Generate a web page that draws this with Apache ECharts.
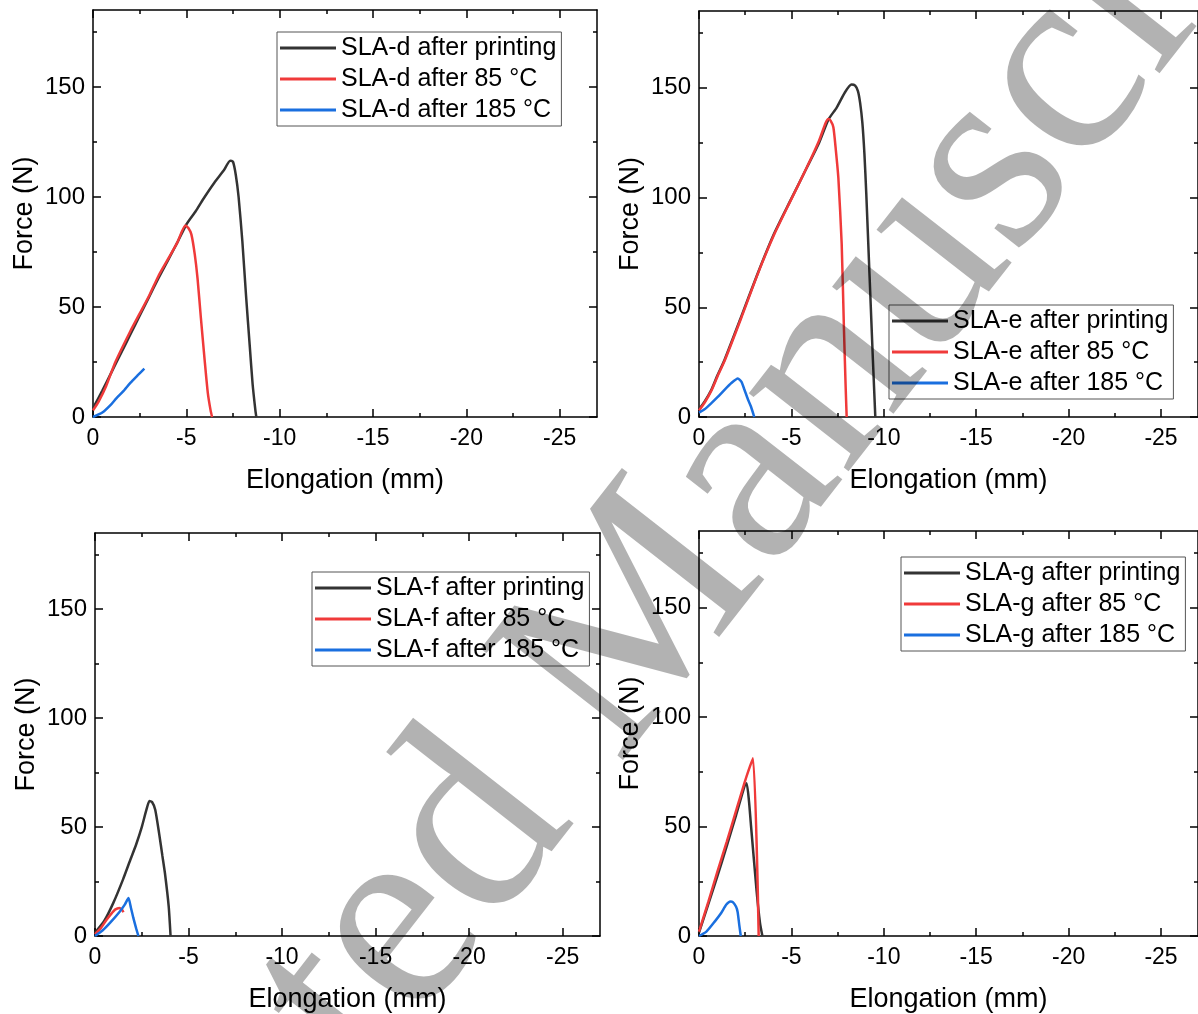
<!DOCTYPE html>
<html>
<head>
<meta charset="utf-8">
<script src="https://cdn.jsdelivr.net/npm/echarts@6/dist/echarts.min.js"></script>
<style>
html,body{margin:0;padding:0;background:#fff;}
#chart{width:1198px;height:1014px;}
</style>
</head>
<body>
<div id="chart"></div>
<script>
// axis ticks
var xMajor = [0, -5, -10, -15, -20, -25];
var xMinor = [-2.5, -7.5, -12.5, -17.5, -22.5];
var yMajor = [0, 50, 100, 150];
var yMinor = [25, 75, 125, 175];

// [elongation (mm), force (N)]
var slaD_print = [[0,4],[-0.5,12],[-1,20.5],[-1.5,29],[-2,37.5],[-2.5,46],[-3,54.5],[-3.5,63],[-4,71],[-4.5,79],[-5,87.5],[-5.5,93.5],[-5.9,99],[-6.5,106.5],[-7,112],[-7.35,116.5],[-7.5,116],[-7.65,110],[-7.8,100],[-8.0,80],[-8.2,55],[-8.4,32],[-8.55,15],[-8.7,3],[-8.75,0]];
var slaD_85 = [[0,3],[-0.3,7],[-0.7,14],[-1.2,25],[-2,39],[-2.5,47],[-3,55],[-3.5,64],[-4,71.5],[-4.5,79],[-4.95,87],[-5.1,86],[-5.27,83],[-5.45,74],[-5.6,63],[-5.78,45],[-5.98,26],[-6.15,11],[-6.3,3],[-6.38,0]];
var slaD_185 = [[0,0],[-0.5,2],[-1,6],[-1.25,8.5],[-1.6,11.5],[-2,15.5],[-2.4,19],[-2.75,22]];

var slaE_print = [[0,3.5],[-0.3,7],[-0.67,12.4],[-1.0,19],[-1.38,26],[-2.28,45.6],[-3.17,65.3],[-4.06,83.5],[-4.95,98.7],[-5.85,113.9],[-6.5,125],[-7.0,135.5],[-7.45,141],[-7.9,148],[-8.25,151.5],[-8.45,151],[-8.6,148.5],[-8.72,143],[-8.84,134],[-8.95,120],[-9.05,102],[-9.23,64],[-9.41,26],[-9.5,8],[-9.54,0]];
var slaE_85 = [[0,3],[-0.3,6.5],[-0.67,12],[-1.0,18.5],[-1.38,25.5],[-2.28,45],[-3.17,65],[-4.06,83],[-4.95,98.5],[-5.85,114],[-6.5,126],[-6.85,134],[-7.0,135.8],[-7.12,135],[-7.27,132],[-7.4,122],[-7.54,109],[-7.72,79],[-7.84,41],[-7.93,15],[-7.99,0]];
var slaE_185 = [[0,2],[-0.3,3.5],[-0.67,6.3],[-1.0,9],[-1.38,12.4],[-1.75,15.5],[-2.1,17.6],[-2.3,16],[-2.46,12.4],[-2.65,8],[-2.81,4.8],[-2.99,0]];

var slaF_print = [[0,1.5],[-0.5,7],[-0.98,15.2],[-1.5,26],[-1.89,35],[-2.2,42],[-2.5,50],[-2.75,58],[-2.91,62],[-3.05,61.5],[-3.22,58],[-3.43,47],[-3.6,37],[-3.74,28.8],[-3.94,13.6],[-4.04,0]];
var slaF_85 = [[0,0.8],[-0.3,3.5],[-0.63,7.6],[-0.9,10.5],[-1.07,12.1],[-1.3,12.9],[-1.45,12],[-1.52,10.9]];
var slaF_185 = [[0,0],[-0.4,2.5],[-0.8,6],[-1.34,11.4],[-1.6,14.5],[-1.79,17.4],[-1.92,13],[-2.05,8.3],[-2.2,3.5],[-2.32,0]];

var slaG_print = [[0,1.5],[-0.5,14.5],[-1.0,27.5],[-1.5,41],[-2.0,55],[-2.57,69.8],[-2.7,62],[-2.81,50.8],[-3.12,20.3],[-3.3,6],[-3.43,0]];
var slaG_85 = [[0,2],[-0.5,15.5],[-1,29.5],[-1.5,43],[-2,57],[-2.5,71],[-2.92,81.2],[-3.23,0]];
var slaG_185 = [[0,0],[-0.4,2],[-0.87,6.8],[-1.2,10.5],[-1.48,14.4],[-1.7,15.8],[-1.83,15.5],[-2.0,13.5],[-2.09,11],[-2.18,5],[-2.26,0]];

var FONT = '"Liberation Sans", Arial, sans-serif';
var colors = ['#333333', '#f03a3a', '#1a6fdf'];

var panels = [
	{tag:'d', grid:{left:93, top:10, width:504, height:407}, legend:{left:277, top:32}, data:[slaD_print, slaD_85, slaD_185]},
	{tag:'e', grid:{left:699, top:11, width:504, height:406}, legend:{left:889, top:305}, data:[slaE_print, slaE_85, slaE_185]},
	{tag:'f', grid:{left:95, top:533, width:505, height:407}, legend:{left:312, top:572}, data:[slaF_print, slaF_85, slaF_185]},
	{tag:'g', grid:{left:699, top:531, width:504, height:407}, legend:{left:901, top:557}, data:[slaG_print, slaG_85, slaG_185]}
];

var lineBlack = {color:'#000', width:1.5};

var makeAxis = function(dim, gi, pos, ticks, len, main){
	var ax = {
		gridIndex: gi, type: 'value', position: pos,
		axisLine: {show: main, onZero: false, lineStyle: lineBlack},
		axisTick: {show: true, inside: true, length: len, customValues: ticks, lineStyle: lineBlack},
		axisLabel: {show: false},
		splitLine: {show: false}
	};
	if(dim == 'x'){
		ax.min = -27; ax.max = 0; ax.inverse = true;
	}else{
		ax.min = 0; ax.max = 185;
	}
	return ax;
}

var option = {
	animation: false,
	backgroundColor: '#fff',
	grid: [], xAxis: [], yAxis: [], legend: [], series: [],
	graphic: [{
		type: 'text', x: 606, y: 664, z: 100, silent: true,
		rotation: 52 * Math.PI / 180,
		style: {text: 'Accepted Manuscript', font: '276px "Liberation Serif", serif', fill: 'rgba(0,0,0,0.3)', textAlign: 'center', textVerticalAlign: 'middle'}
	}]
};

panels.forEach(function(p, gi){
	option.grid.push(p.grid);

	var xb = makeAxis('x', gi, 'bottom', xMajor, 8, true);
	xb.axisLabel = {show: true, customValues: xMajor, margin: 10, fontSize: 23, color: '#000', fontFamily: FONT};
	xb.name = 'Elongation (mm)';
	xb.nameLocation = 'middle';
	xb.nameGap = 50;
	xb.nameTextStyle = {fontSize: 27, color: '#000', fontFamily: FONT};
	option.xAxis.push(xb, makeAxis('x', gi, 'bottom', xMinor, 4, false), makeAxis('x', gi, 'top', xMajor, 8, true), makeAxis('x', gi, 'top', xMinor, 4, false));

	var yl = makeAxis('y', gi, 'left', yMajor, 8, true);
	yl.axisLabel = {show: true, customValues: yMajor, margin: 8, fontSize: 24, color: '#000', fontFamily: FONT};
	yl.name = 'Force (N)';
	yl.nameLocation = 'middle';
	yl.nameGap = 55;
	yl.nameTextStyle = {fontSize: 27, color: '#000', fontFamily: FONT};
	option.yAxis.push(yl, makeAxis('y', gi, 'left', yMinor, 4, false), makeAxis('y', gi, 'right', yMajor, 8, true), makeAxis('y', gi, 'right', yMinor, 4, false));

	var names = ['SLA-' + p.tag + ' after printing', 'SLA-' + p.tag + ' after 85 °C', 'SLA-' + p.tag + ' after 185 °C'];
	option.legend.push({
		left: p.legend.left, top: p.legend.top, orient: 'vertical',
		data: names, icon: 'rect', itemWidth: 56, itemHeight: 3, itemGap: 3,
		padding: [2, 5, 2, 3], borderColor: '#555', borderWidth: 1, borderRadius: 0,
		textStyle: {fontSize: 25, lineHeight: 28, color: '#000', fontFamily: FONT},
		selectedMode: false
	});

	names.forEach(function(n, i){
		option.series.push({
			name: n, type: 'line', data: p.data[i],
			xAxisIndex: gi * 4, yAxisIndex: gi * 4,
			symbol: 'none', smooth: 0.2,
			lineStyle: {width: 2.5, color: colors[i]},
			itemStyle: {color: colors[i]}
		});
	});
});

var chart = echarts.init(document.getElementById('chart'));
chart.setOption(option);
</script>
</body>
</html>
